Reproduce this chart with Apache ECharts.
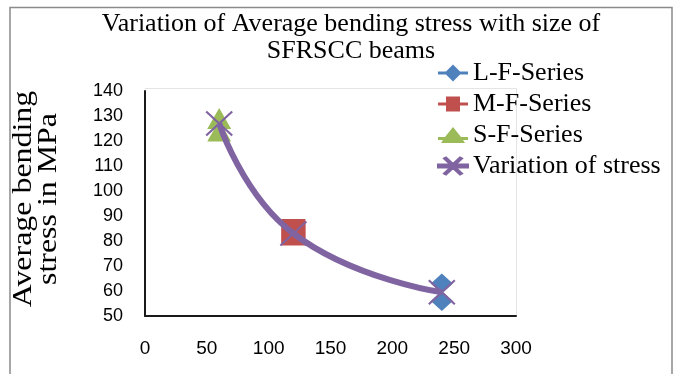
<!DOCTYPE html>
<html>
<head>
<meta charset="utf-8">
<script src="https://cdn.jsdelivr.net/npm/echarts@6/dist/echarts.min.js"></script>
<style>
  html, body { margin: 0; padding: 0; background: #fff; }
  #chart { width: 675px; height: 374px; }
</style>
</head>
<body>
<div id="chart"></div>
<script>
// Beam size (mm) and average bending stress (MPa) per specimen series
const lSize = [240, 240];
const lStress = [63, 56];
const mSize = [120, 120];
const mStress = [84, 83];
const sSize = [60, 60];
const sStress = [129, 124];
const trendSize = [60, 120, 240];
const trendStress = [127, 83, 59.5];

const xTicks = { min: 0, max: 300, interval: 50 };
const yTicks = { min: 50, max: 140, interval: 10 };
const yAxisTitle = 'Average bending\nstress in MPa';

const serif = '"Liberation Serif", "Times New Roman", serif';
const sans = '"Liberation Sans", Arial, sans-serif';

const BLUE = '#4F81BD', RED = '#C0504D', GREEN = '#9BBB59', PURPLE = '#8064A2';

const pairs = (xs, ys) => xs.map((x, i) => [x, ys[i]]);

// Legend keys: a short stroke with the marker on top
const iconDiamond = 'path://M0,7L8,7L15,0L22,7L30,7L30,10L22,10L15,17L8,10L0,10Z';
const iconSquare = 'path://M0,7L8,7L8,1L22,1L22,7L30,7L30,10L22,10L22,16L8,16L8,10L0,10Z';
const iconTriangle = 'path://M0,10L7,10L15,0L23,10L30,10L30,13L25,13L27,16L3,16L5,13L0,13Z';
const iconCross = 'path://M0,7L12.5,7L6,1L8,0L15,6.5L22,0L24,1L17.5,7L30,7L30,10L17.5,10L24,16L22,17L15,10.5L8,17L6,16L12.5,10L0,10Z';
const crossSymbol = 'path://M0,0L10,10M10,0L0,10';

const chart = echarts.init(document.getElementById('chart'));
chart.setOption({
  animation: false,
  backgroundColor: '#fff',
  title: {
    text: 'Variation of Average bending stress with size of\nSFRSCC beams',
    left: 346,
    top: 6,
    textAlign: 'center',
    textStyle: { fontFamily: serif, fontSize: 26, fontWeight: 'normal', color: '#000', lineHeight: 27 }
  },
  graphic: [
    // outer chart frame
    { type: 'polyline', shape: { points: [[10, 374], [10, 7.5], [672, 7.5], [672, 374]] },
      style: { stroke: '#8a8a8a', lineWidth: 1.5, fill: null }, silent: true },
    // faint plot-area outline
    { type: 'polyline', shape: { points: [[145, 88.5], [516.5, 88.5], [516.5, 316]] },
      style: { stroke: '#e4e4e4', lineWidth: 1, fill: null }, silent: true, z: 0 },
    // vertical axis title, slightly stretched along its reading direction
    { type: 'text', x: 36.5, y: 199, rotation: Math.PI / 2, scaleX: 1.14, silent: true,
      style: { text: yAxisTitle, font: '28px ' + serif, fill: '#000',
               align: 'center', verticalAlign: 'middle', lineHeight: 25 } }
  ],
  legend: {
    orient: 'vertical',
    left: 432,
    top: 55,
    itemWidth: 30,
    itemHeight: 17,
    itemGap: 5,
    textStyle: { fontFamily: serif, fontSize: 26, color: '#000', lineHeight: 25 },
    data: [
      { name: 'L-F-Series', icon: iconDiamond },
      { name: 'M-F-Series', icon: iconSquare },
      { name: 'S-F-Series', icon: iconTriangle },
      { name: 'Variation of stress', icon: iconCross }
    ]
  },
  grid: { left: 145, right: 159, top: 91, bottom: 58, containLabel: false, outerBoundsMode: 'none' },
  xAxis: {
    type: 'value',
    min: xTicks.min, max: xTicks.max, interval: xTicks.interval,
    axisLine: { show: true, lineStyle: { color: '#1a1a1a', width: 2 } },
    axisTick: { show: false },
    splitLine: { show: false },
    axisLabel: { fontFamily: sans, fontSize: 19, color: '#000', margin: 23 }
  },
  yAxis: {
    type: 'value',
    min: yTicks.min, max: yTicks.max, interval: yTicks.interval,
    axisLine: { show: true, lineStyle: { color: '#1a1a1a', width: 2 } },
    axisTick: { show: false },
    splitLine: { show: false },
    axisLabel: { fontFamily: sans, fontSize: 18, color: '#000', margin: 22 }
  },
  series: [
    {
      name: 'L-F-Series', type: 'scatter', data: pairs(lSize, lStress),
      symbol: 'diamond', symbolSize: [22, 20],
      itemStyle: { color: BLUE, opacity: 1 }
    },
    {
      name: 'M-F-Series', type: 'scatter', data: pairs(mSize, mStress),
      symbol: 'rect', symbolSize: [24, 24],
      itemStyle: { color: RED, opacity: 1 }
    },
    {
      name: 'S-F-Series', type: 'scatter', data: pairs(sSize, sStress),
      symbol: 'triangle', symbolSize: [24, 21],
      itemStyle: { color: GREEN, opacity: 1 }
    },
    {
      name: 'Variation of stress', type: 'line', data: pairs(trendSize, trendStress),
      smooth: 0.5,
      symbol: crossSymbol, symbolSize: [26, 24], showSymbol: true,
      lineStyle: { color: PURPLE, width: 6 },
      itemStyle: { color: PURPLE, borderColor: PURPLE, borderWidth: 2 },
      z: 3
    }
  ]
});
</script>
</body>
</html>
